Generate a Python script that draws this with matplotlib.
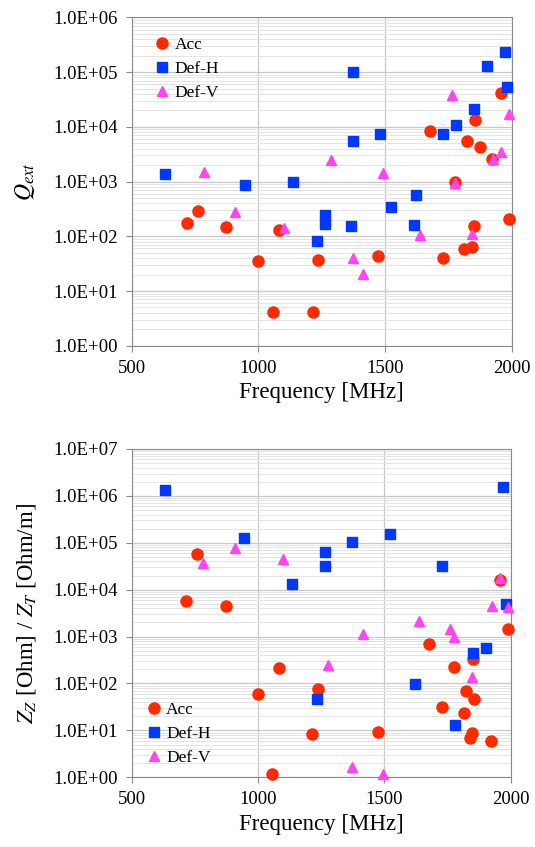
import matplotlib
matplotlib.use('Agg')
import matplotlib.pyplot as plt
import numpy as np
from matplotlib.ticker import FuncFormatter, LogLocator, MultipleLocator

# top panel: Q_ext
acc_q_f = [717, 760, 873, 1000, 1057, 1082, 1216, 1237, 1474, 1678, 1729, 1776, 1813, 1824, 1842, 1850, 1854, 1876, 1923, 1958, 1990]
acc_q = [172, 289, 149, 36, 4.1, 128, 4.1, 37, 43.5, 8470, 40.6, 991, 59, 5560, 64.6, 156, 13450, 4320, 2610, 41900, 204]
defh_q_f = [633, 946, 1136, 1233, 1264, 1264, 1366, 1372, 1375, 1480, 1524, 1614, 1622, 1729, 1781, 1851, 1901, 1972, 1980]
defh_q = [1370, 852, 967, 83, 244, 167, 154, 5500, 100000, 7470, 346, 163, 566, 7280, 10900, 21400, 129000, 229000, 52600]
defv_q_f = [784, 909, 1101, 1287, 1372, 1414, 1493, 1638, 1763, 1776, 1845, 1926, 1958, 1990]
defv_q = [1510, 274, 141, 2440, 39.5, 20.7, 1450, 104, 38000, 950, 108, 2580, 3410, 17100]

# bottom panel: impedance
acc_z_f = [714, 758, 873, 999, 1056, 1083, 1215, 1236, 1474, 1677, 1729, 1777, 1814, 1824, 1840, 1846, 1849, 1856, 1923, 1958, 1990]
acc_z = [5820, 56900, 4560, 60.7, 1.16, 214, 8.4, 75, 9.2, 695, 31, 225, 23, 69, 6.8, 8.7, 328, 47, 5.9, 16100, 1430]
defh_z_f = [632, 943, 1136, 1233, 1265, 1265, 1373, 1522, 1620, 1728, 1781, 1852, 1901, 1971, 1980]
defh_z = [1.32e6, 125000, 13400, 47, 62700, 32000, 105000, 152000, 97.5, 32000, 13, 447, 580, 1.55e6, 4880]
defv_z_f = [781, 908, 1100, 1278, 1372, 1414, 1493, 1638, 1760, 1777, 1846, 1927, 1958, 1990]
defv_z = [37600, 76300, 45800, 248, 1.68, 1140, 1.16, 2200, 1450, 980, 138, 4600, 17800, 4340]

labels = ['Acc', 'Def-H', 'Def-V']
colors = ['#ff2a00', '#0038ff', '#ff44f0']
markers = ['o', 's', '^']
msizes = [8, 7, 7.5]

plt.rcParams['font.family'] = ['Liberation Serif', 'DejaVu Serif']
plt.rcParams['mathtext.fontset'] = 'stix'


def sci(v, pos):
    e = int(round(np.log10(v)))
    return '1.0E%s%02d' % ('+' if e >= 0 else '-', abs(e))


def style(ax, ymax):
    ax.set_yscale('log')
    ax.set_xlim(500, 2000)
    ax.set_ylim(1, ymax)
    ax.xaxis.set_major_locator(MultipleLocator(500))
    ax.yaxis.set_major_locator(LogLocator(base=10, numticks=20))
    ax.yaxis.set_minor_locator(LogLocator(base=10, subs=np.arange(2, 10), numticks=20))
    ax.yaxis.set_major_formatter(FuncFormatter(sci))
    ax.yaxis.set_minor_formatter(FuncFormatter(lambda v, p: ''))
    ax.grid(True, which='major', axis='both', color='#c8c8c8', lw=0.9)
    ax.grid(True, which='minor', axis='y', color='#e4e4e4', lw=0.7)
    ax.set_axisbelow(True)
    for s in ax.spines.values():
        s.set_color('#8a8a8a')
    ax.tick_params(which='major', direction='out', length=4, color='#8a8a8a', labelsize=13.5, pad=6)
    ax.tick_params(which='minor', length=0)
    ax.set_xlabel('Frequency [MHz]', fontsize=16.5, labelpad=4)


fig = plt.figure(figsize=(5.35, 8.47), dpi=100)
ax1 = fig.add_axes([0.2462, 0.5918, 0.7103, 0.3877])
ax2 = fig.add_axes([0.2462, 0.0823, 0.7084, 0.3876])

top = [(acc_q_f, acc_q), (defh_q_f, defh_q), (defv_q_f, defv_q)]
bot = [(acc_z_f, acc_z), (defh_z_f, defh_z), (defv_z_f, defv_z)]

for k in range(3):
    ax1.plot(top[k][0], top[k][1], ls='none', marker=markers[k], ms=msizes[k],
             color=colors[k], mec=colors[k], label=labels[k], clip_on=False, zorder=3)
    ax2.plot(bot[k][0], bot[k][1], ls='none', marker=markers[k], ms=msizes[k],
             color=colors[k], mec=colors[k], label=labels[k], clip_on=False, zorder=3)

style(ax1, 1e6)
style(ax2, 1e7)

ax1.set_ylabel(r'$Q_{ext}$', fontsize=17, labelpad=12)
ax2.set_ylabel(r'$Z_Z$ [Ohm] / $Z_T$ [Ohm/m]', fontsize=16.5, labelpad=11)

ax1.legend(loc='upper left', bbox_to_anchor=(0.035, 0.972), frameon=False, fontsize=12.5,
           handlelength=0.8, handletextpad=0.3, labelspacing=0.45, numpoints=1, borderaxespad=0.2)
ax2.legend(loc='lower left', bbox_to_anchor=(0.013, 0.003), frameon=False, fontsize=12.5,
           handlelength=0.8, handletextpad=0.3, labelspacing=0.45, numpoints=1, borderaxespad=0.2)

fig.savefig('out.png', dpi=100)
